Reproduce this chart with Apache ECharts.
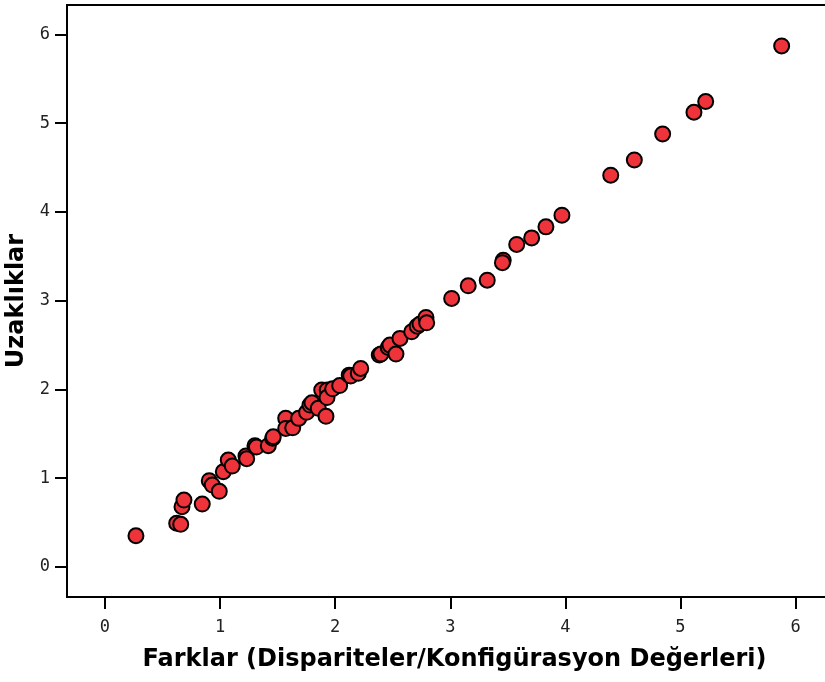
<!DOCTYPE html>
<html>
<head>
<meta charset="utf-8">
<script src="https://cdn.jsdelivr.net/npm/echarts@6/dist/echarts.min.js"></script>
<style>
html,body{margin:0;padding:0;background:#fff;}
#chart{width:825px;height:682px;}
</style>
</head>
<body>
<div id="chart"></div>
<script>
// Farklar (x) values
const farklar = [
  0.269, 0.623, 0.658, 0.669, 0.686, 0.845, 0.906, 0.932, 0.993, 1.028,
  1.071, 1.106, 1.225, 1.231, 1.303, 1.316, 1.419, 1.457, 1.462, 1.570,
  1.570, 1.631, 1.683, 1.752, 1.781, 1.798, 1.853, 1.920, 1.883, 1.931,
  1.929, 1.978, 2.039, 2.122, 2.135, 2.201, 2.222, 2.383, 2.398, 2.461,
  2.476, 2.528, 2.563, 2.665, 2.713, 2.737, 2.789, 2.795, 3.012, 3.156,
  3.321, 3.460, 3.453, 3.577, 3.707, 3.831, 3.970, 4.394, 4.599, 4.845,
  5.117, 5.219, 5.879
];
// Uzaklıklar (y) values
const uzakliklar = [
  0.352, 0.492, 0.481, 0.679, 0.754, 0.709, 0.972, 0.923, 0.852, 1.073,
  1.205, 1.137, 1.250, 1.219, 1.366, 1.351, 1.366, 1.449, 1.467, 1.674,
  1.561, 1.568, 1.674, 1.742, 1.824, 1.850, 1.787, 1.697, 1.993, 1.993,
  1.908, 2.007, 2.043, 2.161, 2.150, 2.181, 2.237, 2.387, 2.398, 2.473,
  2.499, 2.398, 2.575, 2.649, 2.713, 2.736, 2.811, 2.750, 3.025, 3.167,
  3.231, 3.456, 3.428, 3.633, 3.707, 3.831, 3.963, 4.413, 4.585, 4.878,
  5.122, 5.243, 5.869
];
const tickValues = [0, 1, 2, 3, 4, 5, 6];
const xTitle = 'Farklar (Dispariteler/Konfigürasyon Değerleri)';
const yTitle = 'Uzaklıklar';

const points = farklar.map((x, i) => [x, uzakliklar[i]]);

const chart = echarts.init(document.getElementById('chart'), null, {renderer: 'canvas'});
const labelStyle = {fontFamily: 'DejaVu Sans Mono', fontSize: 17, color: '#222'};
const titleStyle = {fontFamily: 'DejaVu Sans', fontWeight: 'bold', fontSize: 24, color: '#000'};
chart.setOption({
  animation: false,
  backgroundColor: '#fff',
  grid: {left: 67, top: 5, right: -5, bottom: 85, containLabel: false, outerBoundsMode: 'none',
         show: true, borderColor: '#000', borderWidth: 2, backgroundColor: 'transparent'},
  xAxis: {
    type: 'value', min: -0.33, max: 6.299,
    name: xTitle, nameLocation: 'middle', nameGap: 51,
    nameTextStyle: Object.assign({verticalAlign: 'top', padding: [0, 0, 0, 12]}, titleStyle),
    axisLine: {show: true, onZero: false, lineStyle: {color: '#000', width: 2}},
    axisTick: {show: true, customValues: tickValues, length: 12, lineStyle: {color: '#000', width: 2}},
    axisLabel: Object.assign({customValues: tickValues, margin: 22}, labelStyle),
    splitLine: {show: false}
  },
  yAxis: {
    type: 'value', min: -0.338, max: 6.33,
    name: yTitle, nameLocation: 'middle', nameGap: 33, nameRotate: 90,
    nameTextStyle: titleStyle,
    axisLine: {show: true, onZero: false, lineStyle: {color: '#000', width: 2}},
    axisTick: {show: true, customValues: tickValues, length: 12, lineStyle: {color: '#000', width: 2}},
    axisLabel: Object.assign({customValues: tickValues, margin: 17}, labelStyle),
    splitLine: {show: false}
  },
  series: [{
    type: 'scatter',
    data: points,
    symbol: 'circle',
    symbolSize: 15,
    itemStyle: {color: '#ee333b', borderColor: '#000', borderWidth: 2, opacity: 1}
  }]
});
</script>
</body>
</html>
